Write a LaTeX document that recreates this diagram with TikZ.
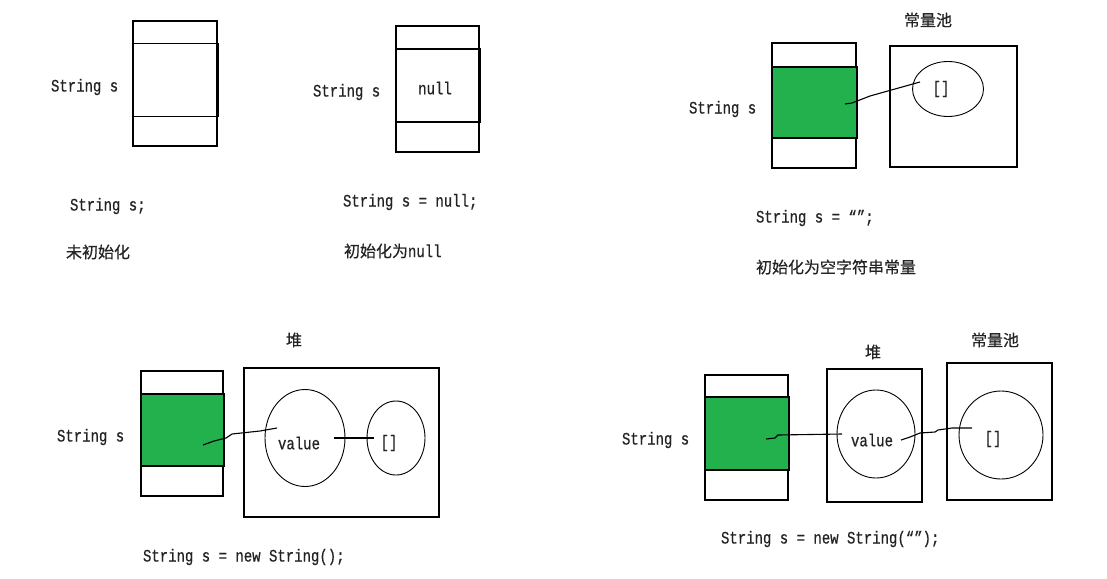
\documentclass[tikz,border=0pt]{standalone}
\usepackage{fontspec}
\newfontfamily\code[FakeStretch=0.8,FakeBold=0.6]{Liberation Mono}
\newfontfamily\cjk[FakeBold=0.5]{Noto Sans CJK SC}
\usetikzlibrary{shapes.geometric}
\definecolor{cellgreen}{RGB}{34,177,76}
\definecolor{ink}{RGB}{35,35,35}
\newcommand\cf{\code\fontsize{17.5}{17.5}\selectfont}
\begin{document}
\begin{tikzpicture}[x=1pt,y=-1pt,
  every node/.style={inner sep=0pt,outer sep=0pt},
  lbl/.style={font=\cf,text=ink,anchor=west},
  cn/.style={font=\cjk\fontsize{16}{16}\selectfont,text=ink},
  box/.style={draw,line width=1.1pt},
  cell/.style={draw,line width=1.4pt},
  green/.style={cell,fill=cellgreen},
  oval/.style={draw,ellipse,line width=0.9pt},
  link/.style={line width=1.1pt}]
\useasboundingbox (0,0) rectangle (1107,578);
% ---------- panel 1 ----------
\node[box,minimum width=84pt,minimum height=125pt] (s1) at (175,83.5) {};
\node[cell,minimum width=85pt,minimum height=73pt] (c1) at (175.5,80) {};
\node[lbl] (l1) at (51,87) {String s};
\node[lbl] (d1) at (70,206) {String s;};
\node[cn,anchor=west] (e1) at (66,252) {未初始化};
% ---------- panel 2 ----------
\node[box,minimum width=83pt,minimum height=126pt] (s2) at (437.5,89) {};
\node[cell,minimum width=84pt,minimum height=73pt] (c2) at (438,85.5) {};
\node[font=\cf,text=ink] (n2) at (435,88) {null};
\node[lbl] (l2) at (313,92) {String s};
\node[lbl] (d2) at (343,202) {String s = null;};
\node[cn,anchor=west] (e2) at (344,251) {初始化为{\cf null}};
% ---------- panel 3 ----------
\node[box,minimum width=84pt,minimum height=125pt] (s3) at (814,105.5) {};
\node[green,minimum width=85pt,minimum height=71pt] (c3) at (814.5,102.5) {};
\node[box,minimum width=127pt,minimum height=121pt] (p3) at (953.5,106.5) {};
\node[oval,minimum width=71pt,minimum height=55pt] (o3) at (948,89) {};
\node[font=\cf,text=ink] (q3) at (941,89) {[]};
\node[cn] (t3) at (928,20) {常量池};
\coordinate (a3) at (845,104);
\coordinate (b3) at (920,82);
\draw[link] (a3) -- (852,103) -- (870,96) -- (895,89) -- (b3);
\node[lbl] (l3) at (689,109) {String s};
\node[lbl] (d3) at (756,218) {String s = “”;};
\node[cn,anchor=west] (e3) at (756,267) {初始化为空字符串常量};
% ---------- panel 4 ----------
\node[box,minimum width=82pt,minimum height=125pt] (s4) at (182,433.5) {};
\node[green,minimum width=83pt,minimum height=72pt] (c4) at (182.5,430) {};
\node[box,minimum width=195pt,minimum height=149pt] (h4) at (341.5,442.5) {};
\node[oval,minimum width=80pt,minimum height=97pt] (v4) at (305,438) {};
\node[font=\cf,text=ink] (vt4) at (299,443) {value};
\node[oval,minimum width=58pt,minimum height=74pt] (o4) at (396,438) {};
\node[font=\cf,text=ink] (q4) at (389,443) {[]};
\node[cn] (t4) at (294,340) {堆};
\coordinate (a4) at (203,445);
\coordinate (b4) at (277,428);
\draw[link] (a4) -- (214,441) -- (226,438) -- (232,434) -- (260,431) -- (b4);
\coordinate (a4b) at (334,438);
\coordinate (b4b) at (374,438);
\draw[link] (a4b) -- (b4b);
\node[lbl] (l4) at (57,437) {String s};
\node[lbl] (d4) at (143,557) {String s = new String();};
% ---------- panel 5 ----------
\node[box,minimum width=83pt,minimum height=125pt] (s5) at (746.5,437.5) {};
\node[green,minimum width=84pt,minimum height=73pt] (c5) at (747,433.5) {};
\node[box,minimum width=95pt,minimum height=133pt] (h5) at (874.5,435.5) {};
\node[oval,minimum width=78pt,minimum height=88pt] (v5) at (876,434) {};
\node[font=\cf,text=ink] (vt5) at (872,440) {value};
\node[box,minimum width=105pt,minimum height=137pt] (p5) at (999.5,431.5) {};
\node[oval,minimum width=84pt,minimum height=88pt] (o5) at (1001,435) {};
\node[font=\cf,text=ink] (q5) at (993,439) {[]};
\node[cn] (t5) at (873,352) {堆};
\node[cn] (u5) at (995,340) {常量池};
\coordinate (a5) at (766,439);
\coordinate (b5) at (842,434);
\draw[link] (a5) -- (775,438) -- (778,435) -- (b5);
\coordinate (a5b) at (901,440);
\coordinate (b5b) at (972,428);
\draw[link] (a5b) -- (910,437) -- (920,433) -- (935,432) -- (938,430) -- (952,428) -- (b5b);
\node[lbl] (l5) at (622,440) {String s};
\node[lbl] (d5) at (721,539) {String s = new String(“”);};
\end{tikzpicture}
\end{document}
